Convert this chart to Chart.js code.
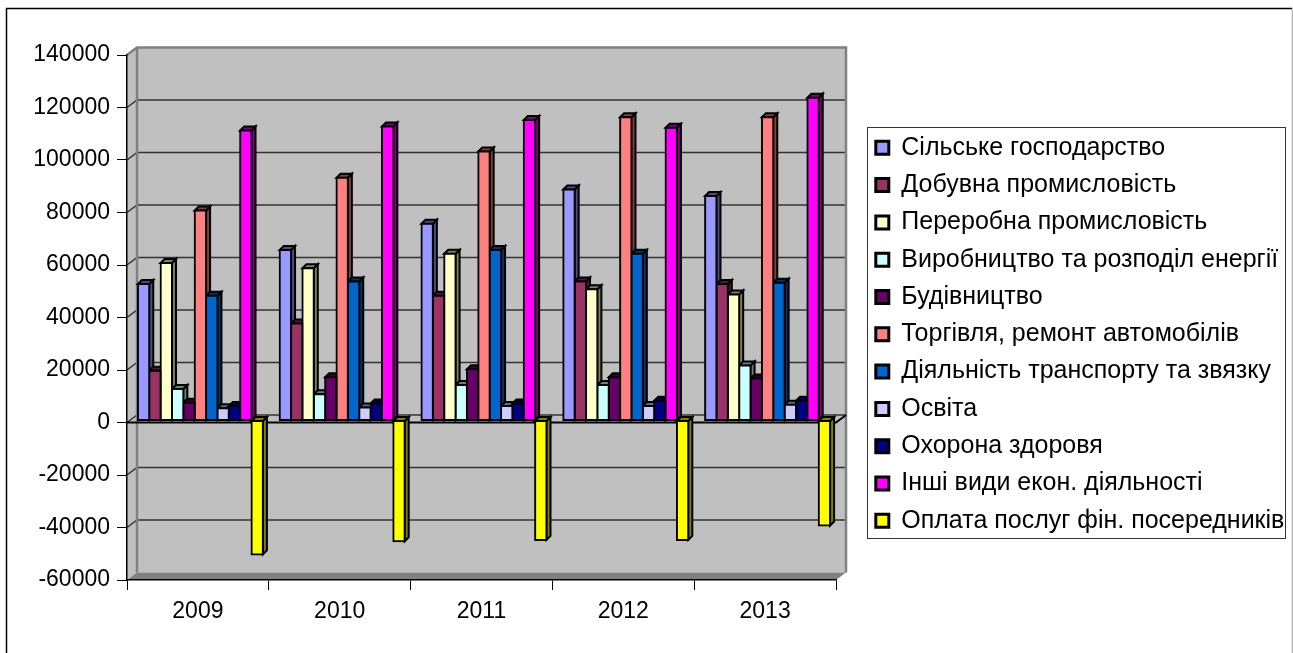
<!DOCTYPE html>
<html>
<head>
<meta charset="utf-8">
<title>Chart</title>
<script src="https://cdn.jsdelivr.net/npm/chart.js@4"></script>
<style>
    html, body { margin: 0; padding: 0; background: #fff; }
    canvas { display: block; }
</style>
</head>
<body>
<canvas id="myChart" width="1293" height="653"></canvas>
<script>
const years = ['2009', '2010', '2011', '2012', '2013'];

const seriesNames = [
    'Сільське господарство',
    'Добувна промисловість',
    'Переробна промисловість',
    'Виробництво та розподіл енергії',
    'Будівництво',
    'Торгівля, ремонт автомобілів',
    'Діяльність транспорту та звязку',
    'Освіта',
    'Охорона здоровя',
    'Інші види екон. діяльності',
    'Оплата послуг фін. посередників'
];

const seriesColors = ['#9999FF', '#993366', '#FFFFCC', '#CCFFFF', '#660066', '#FF8080',
    '#0066CC', '#CCCCFF', '#000080', '#FF00FF', '#FFFF00'];

const agriculture = [52000, 65000, 75000, 88000, 85500];
const mining = [19000, 37000, 47500, 53000, 52000];
const manufacturing = [60000, 58000, 63500, 50000, 48000];
const energy = [12000, 10000, 13500, 13500, 21000];
const construction = [6800, 16500, 19500, 16500, 16000];
const trade = [80000, 92500, 102500, 115500, 115500];
const transport = [47500, 53000, 65000, 63500, 52500];
const education = [4700, 5000, 5500, 5500, 6000];
const health = [5500, 6500, 6500, 7500, 7500];
const other = [110500, 112000, 114500, 111500, 123000];
const finFees = [-51000, -46000, -45500, -45500, -40000];

const seriesValues = [agriculture, mining, manufacturing, energy, construction, trade,
    transport, education, health, other, finFees];

// зсув задньої стінки відносно передньої площини
const wallX = 10;
const wallY = 7.5;
// глибина стовпчика
const depth = 4;
// наскільки контур стовпчика виходить за його межі
const inflate = 1;

function shade(hex) {
    const n = parseInt(hex.slice(1), 16);
    const r = (n >> 16) >> 1, g = ((n >> 8) & 255) >> 1, b = (n & 255) >> 1;
    return `rgb(${r},${g},${b})`;
}

function poly(ctx, pts, fill, stroke, width) {
    ctx.beginPath();
    pts.forEach((p, i) => i ? ctx.lineTo(p[0], p[1]) : ctx.moveTo(p[0], p[1]));
    ctx.closePath();
    if (fill) { ctx.fillStyle = fill; ctx.fill(); }
    if (stroke) { ctx.strokeStyle = stroke; ctx.lineWidth = width; ctx.stroke(); }
}

const wallsPlugin = {
    id: 'walls',
    beforeDraw(chart) {
        const ctx = chart.ctx;
        const { left, right, top, bottom } = chart.chartArea;
        const yScale = chart.scales.y;
        ctx.save();
        // рамка діаграми
        ctx.lineWidth = 1.5;
        ctx.strokeStyle = '#000';
        ctx.beginPath();
        ctx.moveTo(6.5, 660);
        ctx.lineTo(6.5, 8.5);
        ctx.lineTo(1292, 8.5);
        ctx.stroke();
        ctx.strokeStyle = '#b0b0b0';
        ctx.beginPath();
        ctx.moveTo(1292.5, 8.5);
        ctx.lineTo(1292.5, 660);
        ctx.stroke();

        // задня та бічна стінки
        poly(ctx, [[left + wallX, top - wallY], [right + wallX, top - wallY], [right + wallX, bottom - wallY], [left + wallX, bottom - wallY]], '#C0C0C0');
        poly(ctx, [[left, top], [left + wallX, top - wallY], [left + wallX, bottom - wallY], [left, bottom]], '#C0C0C0');

        // лінії сітки
        yScale.ticks.forEach(t => {
            const y = yScale.getPixelForValue(t.value);
            if (t.value === yScale.min || t.value === yScale.max) return;
            ctx.strokeStyle = '#333';
            ctx.lineWidth = 1.5;
            ctx.beginPath();
            ctx.moveTo(left, y);
            ctx.lineTo(left + wallX, y - wallY);
            ctx.lineTo(right + wallX, y - wallY);
            ctx.stroke();
        });

        // рамка стінок
        ctx.strokeStyle = '#808080';
        ctx.lineWidth = 2.5;
        ctx.beginPath();
        ctx.moveTo(left, top);
        ctx.lineTo(left + wallX, top - wallY);
        ctx.lineTo(right + wallX, top - wallY);
        ctx.lineTo(right + wallX, bottom - wallY);
        ctx.moveTo(left + wallX, top - wallY);
        ctx.lineTo(left + wallX, bottom - wallY);
        ctx.stroke();

        // підлога
        poly(ctx, [[left, bottom], [left + wallX, bottom - wallY], [right + wallX, bottom - wallY], [right, bottom]], '#808080');

        // площина нуля
        const zero = yScale.getPixelForValue(0);
        ctx.strokeStyle = '#000';
        ctx.lineWidth = 2;
        ctx.beginPath();
        ctx.moveTo(left, zero);
        ctx.lineTo(right, zero);
        ctx.lineTo(right + wallX, zero - wallY);
        ctx.stroke();
        ctx.restore();
    },
    afterLayout(chart) {
        // легенда стоїть у своїй рамці праворуч
        const legend = chart.legend;
        legend.left = 863.5;
        legend.right = 1285;
        legend.top = 123;
        legend.bottom = 640;
    },
    beforeDatasetsDraw(chart) {
        const ctx = chart.ctx;
        ctx.save();
        ctx.translate(2.5, -2);
        // спочатку всі бічні грані, передні грані бібліотека малює поверх
        ctx.save();
        ctx.lineJoin = 'miter';
        chart.data.datasets.forEach((ds, i) => {
            const dark = shade(seriesColors[i]);
            chart.getDatasetMeta(i).data.forEach(bar => {
                const p = bar.getProps(['x', 'y', 'base', 'width'], true);
                const l = p.x - p.width / 2 - inflate + 1, r = p.x + p.width / 2 + inflate - 1;
                const t = Math.min(p.y, p.base) - inflate + 1, b = Math.max(p.y, p.base) + inflate - 1;
                poly(ctx, [[r, t], [r + depth, t - depth], [r + depth, b - depth], [r, b]], dark, '#000', 2);
                poly(ctx, [[l, t], [l + depth, t - depth], [r + depth, t - depth], [r, t]], dark, '#000', 2);
            });
        });
        ctx.restore();
    },
    afterDatasetsDraw(chart) {
        chart.ctx.restore();
    },
    afterDraw(chart) {
        // рамка легенди
        const ctx = chart.ctx;
        ctx.save();
        ctx.strokeStyle = '#333';
        ctx.lineWidth = 1;
        ctx.strokeRect(867.5, 127.5, 418, 411);
        ctx.restore();
    }
};

const datasets = seriesNames.map((name, i) => ({
    label: name,
    data: seriesValues[i],
    backgroundColor: seriesColors[i],
    borderColor: '#000',
    borderWidth: 2,
    borderSkipped: false,
    inflateAmount: inflate,
    barPercentage: 1,
    categoryPercentage: 0.8815
}));

const labelFont = { family: '"Liberation Sans", Arial, sans-serif', size: 23 };

new Chart(document.getElementById('myChart').getContext('2d'), {
    type: 'bar',
    data: { labels: years, datasets: datasets },
    plugins: [wallsPlugin],
    options: {
        responsive: false,
        animation: false,
        layout: { padding: { top: 55, right: 457, left: 0, bottom: 0 } },
        plugins: {
            tooltip: { enabled: false },
            legend: {
                position: 'chartArea',
                align: 'start',
                labels: {
                    color: '#000',
                    font: { family: '"Liberation Sans", Arial, sans-serif', size: 25 },
                    boxWidth: 13,
                    boxHeight: 13,
                    padding: 12.3,
                    generateLabels() {
                        return seriesNames.map((name, i) => ({
                            text: name,
                            fillStyle: seriesColors[i],
                            strokeStyle: '#000',
                            lineWidth: 3,
                            datasetIndex: i
                        }));
                    }
                }
            }
        },
        scales: {
            x: {
                afterFit(scale) { scale.height = 73; },
                grid: { drawOnChartArea: false, drawTicks: true, tickLength: 10, color: '#000', offset: true },
                border: { color: '#000', width: 1.5 },
                ticks: { color: '#000', font: labelFont, padding: 8, maxRotation: 0 }
            },
            y: {
                min: -60000,
                max: 140000,
                afterFit(scale) { scale.width = 127; },
                grid: { drawOnChartArea: false, drawTicks: true, tickLength: 10, color: '#000' },
                border: { color: '#000', width: 1.5 },
                ticks: { stepSize: 20000, color: '#000', font: labelFont, padding: 7, callback: v => String(v) }
            }
        }
    }
});
</script>
</body>
</html>
